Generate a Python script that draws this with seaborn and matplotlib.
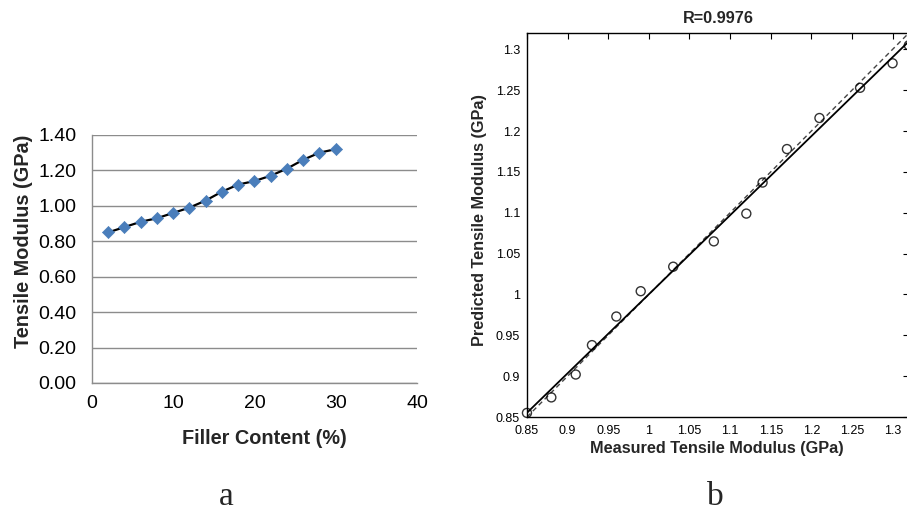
import numpy as np
import pandas as pd
import matplotlib
matplotlib.use("Agg")
import matplotlib.pyplot as plt
from matplotlib.ticker import FuncFormatter, MultipleLocator
import seaborn as sns

# Filler content (%) and measured tensile modulus (GPa)
filler_content = [2, 4, 6, 8, 10, 12, 14, 16, 18, 20, 22, 24, 26, 28, 30]
measured_modulus = [0.85, 0.88, 0.91, 0.93, 0.96, 0.99, 1.03, 1.08, 1.12,
                    1.14, 1.17, 1.21, 1.26, 1.30, 1.32]
# Model-predicted tensile modulus (GPa) for the same samples
predicted_modulus = [0.855, 0.874, 0.902, 0.938, 0.973, 1.004, 1.034, 1.065,
                     1.099, 1.137, 1.178, 1.216, 1.253, 1.283, 1.305]
r_value = "R=0.9976"

sns.set_theme(style="white")
plt.rcParams["font.family"] = ["Liberation Sans", "DejaVu Sans"]

fig = plt.figure(figsize=(9.07, 5.14), dpi=100)

# ---- (a) modulus vs filler content -------------------------------------
df_a = pd.DataFrame({"filler": filler_content, "modulus": measured_modulus})
ax1 = fig.add_axes([0.1014, 0.2549, 0.3583, 0.4825])
sns.lineplot(data=df_a, x="filler", y="modulus", ax=ax1, color="black",
             linewidth=1.6, zorder=2)
sns.scatterplot(data=df_a, x="filler", y="modulus", ax=ax1, marker="D",
                color="#4a7ebb", s=38, edgecolor="#4a7ebb", zorder=3)
ax1.set_xlim(0, 40)
ax1.set_ylim(0, 1.4)
ax1.xaxis.set_major_locator(MultipleLocator(10))
ax1.yaxis.set_major_locator(MultipleLocator(0.2))
ax1.yaxis.set_major_formatter(FuncFormatter(lambda v, p: f"{v:.2f}"))
ax1.grid(axis="y", color="#8c8c8c", linewidth=1.0)
ax1.set_axisbelow(True)
for side in ("top", "right"):
    ax1.spines[side].set_visible(False)
for side in ("left", "bottom"):
    ax1.spines[side].set_color("#8c8c8c")
    ax1.spines[side].set_linewidth(1.0)
ax1.tick_params(axis="y", length=0, labelsize=14, colors="black", pad=11)
ax1.tick_params(axis="x", length=0, labelsize=14, colors="black", pad=9)
ax1.set_xlabel("Filler Content (%)", fontsize=14.3, fontweight="bold",
               va="center")
ax1.set_ylabel("Tensile Modulus (GPa)", fontsize=14.3, fontweight="bold",
               va="center")
ax1.xaxis.set_label_coords(0.532, -0.222)
ax1.yaxis.set_label_coords(-0.21, 0.573)

# ---- (b) predicted vs measured -----------------------------------------
df_b = pd.DataFrame({"measured": measured_modulus, "predicted": predicted_modulus})
ax2 = fig.add_axes([0.581, 0.1887, 0.421, 0.747])
lims = [0.85, 1.32]
ax2.plot(lims, lims, linestyle=(0, (3.5, 2.5)), color="#444444",
         linewidth=1.0, zorder=1)
sns.regplot(data=df_b, x="measured", y="predicted", ax=ax2, ci=None,
            truncate=False,
            scatter_kws=dict(s=42, facecolors="none", edgecolors="black",
                             linewidths=1.0, zorder=3, clip_on=False),
            line_kws=dict(color="black", linewidth=1.3, zorder=2))
ax2.set_xlim(*lims)
ax2.set_ylim(*lims)
ax2.xaxis.set_major_locator(MultipleLocator(0.05))
ax2.yaxis.set_major_locator(MultipleLocator(0.05))
fmt = FuncFormatter(lambda v, p: f"{v:g}")
ax2.xaxis.set_major_formatter(fmt)
ax2.yaxis.set_major_formatter(fmt)
for side in ax2.spines.values():
    side.set_color("black")
    side.set_linewidth(1.0)
ax2.tick_params(axis="both", direction="in", length=4, width=0.8,
                top=True, right=True, labelsize=9, colors="black")
ax2.tick_params(axis="y", pad=5)
ax2.tick_params(axis="x", pad=5.5)
ax2.set_xlabel("Measured Tensile Modulus (GPa)", fontsize=11.7,
               fontweight="bold", va="center")
ax2.set_ylabel("Predicted Tensile Modulus (GPa)", fontsize=11.7,
               fontweight="bold", va="center")
ax2.xaxis.set_label_coords(0.496, -0.081)
ax2.yaxis.set_label_coords(-0.123, 0.513)
ax2.set_title(r_value, fontsize=11.7, fontweight="bold", pad=7)

# Panel letters
fig.text(226 / 907, 1 - 505 / 514, "a", family="Liberation Serif",
         fontsize=24, ha="center", va="baseline")
fig.text(715 / 907, 1 - 505 / 514, "b", family="Liberation Serif",
         fontsize=24, ha="center", va="baseline")

fig.savefig("out.png", dpi=100, facecolor="white")
